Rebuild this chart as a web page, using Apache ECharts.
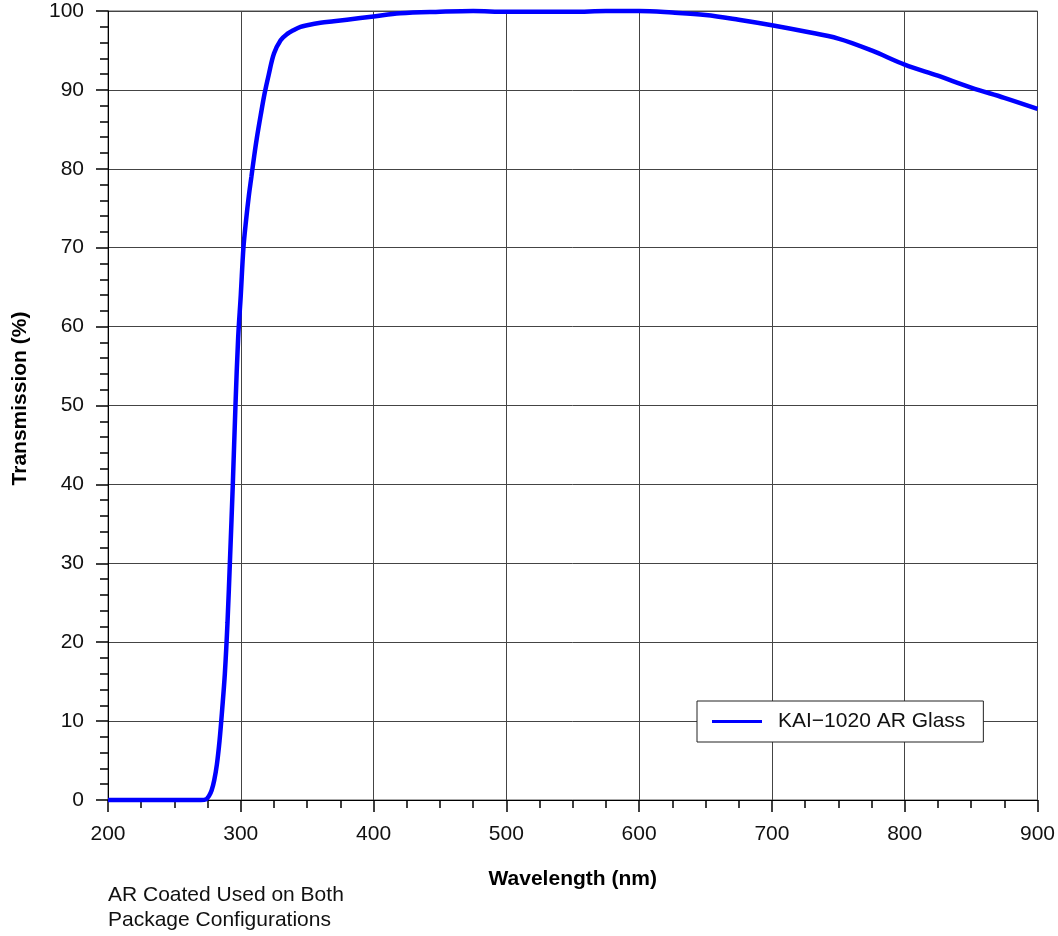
<!DOCTYPE html>
<html>
<head>
<meta charset="utf-8">
<script src="https://cdn.jsdelivr.net/npm/echarts@6/dist/echarts.min.js"></script>
<style>
  html, body { margin: 0; padding: 0; background: #fff; }
  #container { width: 1058px; height: 936px; }
</style>
</head>
<body>
<div id="container"></div>
<script>
// wavelength (nm) and transmission (%)
const wavelength = [200, 210, 220, 230, 240, 250, 260, 270, 274, 276, 278, 280, 282, 284, 286, 288,
  290, 292, 294, 296, 298, 300, 302, 304, 306, 308, 310, 312, 315, 318, 321, 325, 330, 335, 340,
  345, 350, 360, 370, 380, 400, 420, 450, 475, 500, 525, 550, 575, 600, 625, 650, 675, 700, 725,
  750, 775, 800, 825, 850, 875, 900];
const transmission = [0, 0, 0, 0, 0, 0, 0, 0, 0.1, 0.5, 1.2, 2.5, 4.5, 7.5, 11.5, 16,
  22.5, 31, 40, 50, 58.5, 64, 70, 73.5, 76.5, 79, 81.5, 83.8, 86.8, 89.6, 91.9, 94.6, 96.3, 97.1, 97.6,
  98, 98.2, 98.5, 98.7, 98.9, 99.3, 99.7, 99.9, 100, 99.9, 99.9, 99.9, 100, 100, 99.8, 99.5, 98.9, 98.2, 97.4,
  96.5, 95, 93.2, 91.8, 90.3, 89, 87.6];
const seriesName = 'KAI\u22121020 AR Glass';
const noteLines = ['AR Coated Used on Both', 'Package Configurations'];

let dom = document.getElementById('container');
let myChart = echarts.init(dom);
const font = 'Liberation Sans, Arial, sans-serif';

let points = wavelength.map(function (w, i) { return [w, transmission[i]]; });

let option = {
  animation: false,
  textStyle: { fontFamily: font },
  grid: {
    left: 108, top: 11, right: 19, bottom: 136,
    show: true, borderColor: '#555', borderWidth: 1
  },
  legend: {
    left: 697, top: 701,
    padding: [10, 18, 10, 15],
    borderColor: '#222', borderWidth: 1,
    backgroundColor: '#fff',
    icon: 'rect', itemWidth: 50, itemHeight: 3, itemGap: 10,
    textStyle: { fontSize: 21, color: '#111', fontFamily: font, padding: [0, 0, 0, 11] },
    data: [seriesName]
  },
  xAxis: {
    type: 'value', min: 200, max: 900, interval: 100,
    name: 'Wavelength (nm)', nameLocation: 'middle', nameGap: 69,
    nameTextStyle: { fontSize: 21, fontWeight: 'bold', color: '#000', fontFamily: font },
    axisLine: { show: true, lineStyle: { color: '#000', width: 1 } },
    axisTick: { show: true, length: 12, lineStyle: { color: '#000', width: 1.5 } },
    minorTick: { show: true, splitNumber: 4, length: 8, lineStyle: { color: '#000', width: 1.5 } },
    axisLabel: { fontSize: 21, color: '#111', margin: 24, fontFamily: font },
    splitLine: { show: true, lineStyle: { color: '#444', width: 1 } }
  },
  yAxis: {
    type: 'value', min: 0, max: 100, interval: 10,
    name: 'Transmission (%)', nameLocation: 'middle', nameGap: 77, nameRotate: 90,
    nameTextStyle: { fontSize: 21, fontWeight: 'bold', color: '#000', fontFamily: font, padding: [0, 0, 0, 14] },
    axisLine: { show: true, lineStyle: { color: '#000', width: 1 } },
    axisTick: { show: true, length: 12, lineStyle: { color: '#000', width: 1.5 } },
    minorTick: { show: true, splitNumber: 5, length: 8, lineStyle: { color: '#000', width: 1.5 } },
    axisLabel: { fontSize: 21, color: '#111', margin: 24, fontFamily: font },
    splitLine: { show: true, lineStyle: { color: '#444', width: 1 } }
  },
  series: [{
    name: seriesName,
    type: 'line',
    data: points,
    showSymbol: false,
    smooth: 0.35,
    clip: false,
    lineStyle: { color: '#0000ff', width: 4.5 },
    itemStyle: { color: '#0000ff' }
  }],
  graphic: [{
    type: 'text', left: 108, top: 883,
    style: {
      text: noteLines.join('\n'),
      font: '21px ' + font,
      fill: '#111',
      lineHeight: 25
    }
  }]
};

myChart.setOption(option);
</script>
</body>
</html>
